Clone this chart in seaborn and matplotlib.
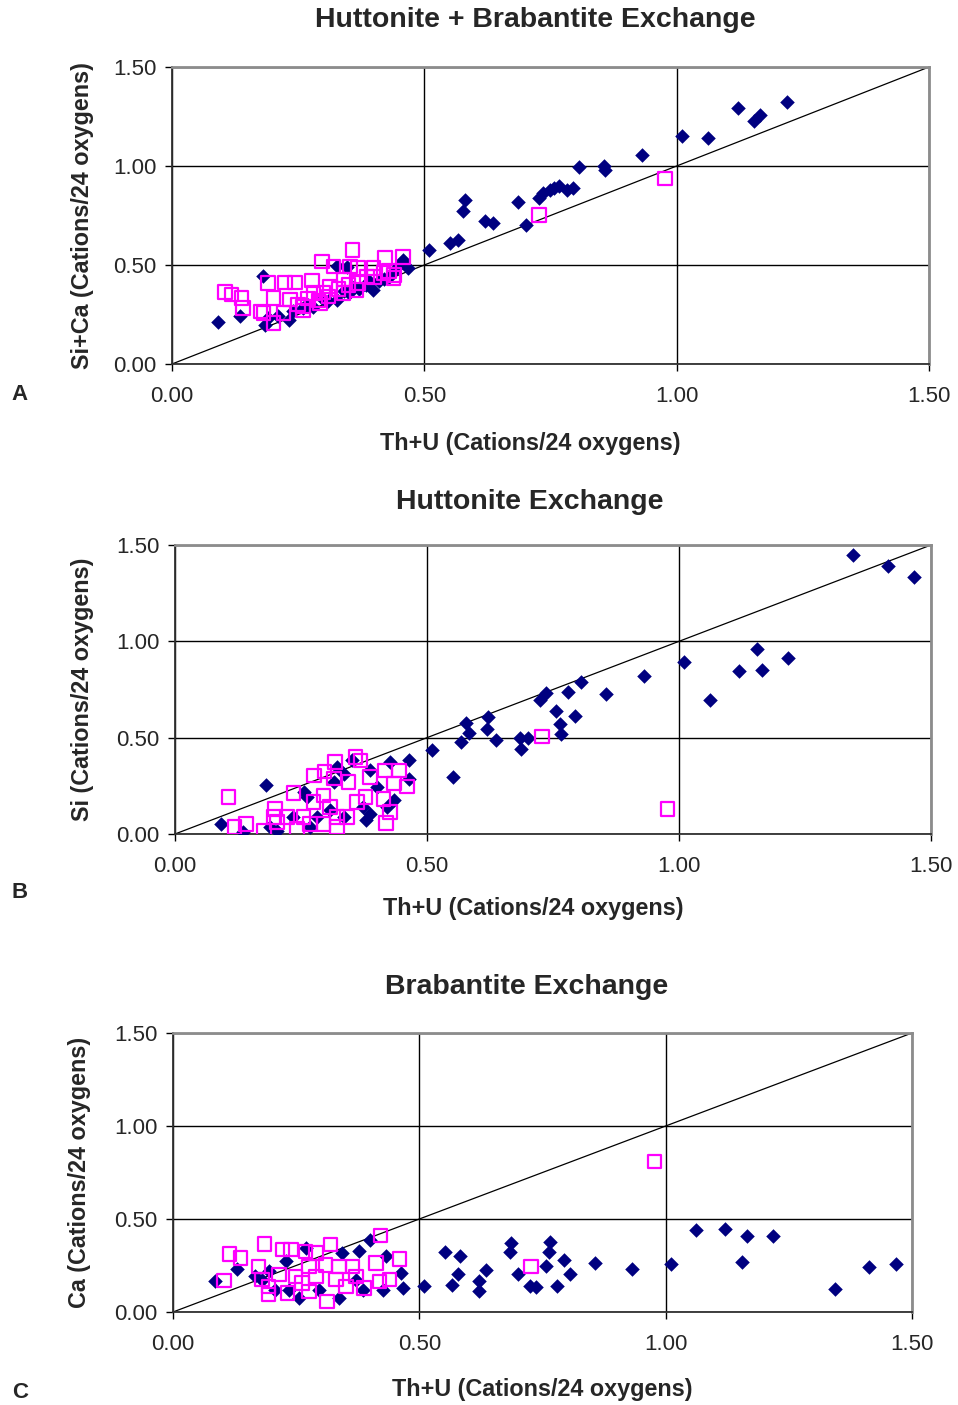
import matplotlib
matplotlib.use("Agg")
import matplotlib.pyplot as plt
import seaborn as sns

sns.set_style("white")
plt.rcParams["font.family"] = ["Liberation Sans", "DejaVu Sans"]

NAVY = "#000080"
MAGENTA = "#FF00FF"

# Panel A: Si+Ca vs Th+U
a_navy_x = [0.092, 0.134, 0.180, 0.184, 0.19, 0.21, 0.231, 0.24, 0.26, 0.27, 0.28, 0.30, 0.31, 0.326, 0.326,
            0.346, 0.34, 0.35, 0.36, 0.37, 0.385, 0.39, 0.399, 0.41, 0.42, 0.43, 0.44, 0.45, 0.458, 0.468,
            0.510, 0.551, 0.567, 0.577, 0.581, 0.620, 0.637, 0.686, 0.701, 0.727, 0.736, 0.749, 0.756,
            0.766, 0.782, 0.795, 0.806, 0.856, 0.858, 0.932, 1.010, 1.062, 1.121, 1.154, 1.165, 1.218]
a_navy_y = [0.212, 0.240, 0.446, 0.198, 0.23, 0.24, 0.224, 0.27, 0.283, 0.30, 0.29, 0.33, 0.32, 0.325, 0.493,
            0.490, 0.37, 0.36, 0.39, 0.38, 0.40, 0.42, 0.375, 0.42, 0.43, 0.44, 0.47, 0.50, 0.527, 0.485,
            0.574, 0.611, 0.628, 0.771, 0.830, 0.720, 0.712, 0.818, 0.704, 0.838, 0.864, 0.880, 0.889,
            0.900, 0.880, 0.889, 0.995, 1.002, 0.981, 1.054, 1.153, 1.139, 1.294, 1.229, 1.258, 1.323]
a_mag_x = [0.105, 0.118, 0.138, 0.141, 0.175, 0.181, 0.190, 0.201, 0.201, 0.221, 0.224, 0.234, 0.244, 0.25,
           0.26, 0.260, 0.27, 0.277, 0.280, 0.29, 0.293, 0.297, 0.30, 0.31, 0.313, 0.320, 0.33, 0.340, 0.340,
           0.35, 0.353, 0.358, 0.366, 0.369, 0.37, 0.386, 0.399, 0.40, 0.419, 0.422, 0.43, 0.439, 0.44,
           0.458, 0.727, 0.977]
a_mag_y = [0.364, 0.350, 0.333, 0.283, 0.266, 0.258, 0.409, 0.207, 0.333, 0.258, 0.412, 0.325, 0.412, 0.30,
           0.27, 0.291, 0.33, 0.421, 0.359, 0.32, 0.308, 0.518, 0.36, 0.34, 0.392, 0.493, 0.38, 0.426, 0.359,
           0.40, 0.493, 0.577, 0.375, 0.485, 0.41, 0.442, 0.485, 0.44, 0.460, 0.535, 0.47, 0.434, 0.45,
           0.540, 0.752, 0.936]

# Panel B: Si vs Th+U
b_navy_x = [0.091, 0.135, 0.181, 0.189, 0.202, 0.235, 0.255, 0.262, 0.268, 0.282, 0.308, 0.315, 0.321,
            0.335, 0.335, 0.351, 0.374, 0.378, 0.387, 0.387, 0.401, 0.421, 0.427, 0.434, 0.464, 0.464,
            0.510, 0.551, 0.567, 0.578, 0.583, 0.619, 0.621, 0.636, 0.684, 0.686, 0.700, 0.725, 0.737,
            0.755, 0.763, 0.766, 0.780, 0.794, 0.805, 0.856, 0.930, 1.010, 1.062, 1.120, 1.154, 1.165,
            1.217, 1.346, 1.414, 1.467]
b_navy_y = [0.053, 0.010, 0.252, 0.036, 0.013, 0.088, 0.218, 0.192, 0.036, 0.088, 0.123, 0.269, 0.347,
            0.313, 0.088, 0.382, 0.140, 0.071, 0.330, 0.105, 0.244, 0.140, 0.373, 0.174, 0.382, 0.287,
            0.434, 0.294, 0.477, 0.574, 0.524, 0.547, 0.605, 0.490, 0.500, 0.443, 0.500, 0.694, 0.732,
            0.637, 0.569, 0.521, 0.737, 0.612, 0.789, 0.725, 0.822, 0.895, 0.694, 0.846, 0.958, 0.849,
            0.912, 1.446, 1.389, 1.334]
b_mag_x = [0.106, 0.118, 0.141, 0.177, 0.196, 0.198, 0.202, 0.222, 0.235, 0.242, 0.255, 0.268, 0.275,
           0.276, 0.295, 0.295, 0.297, 0.308, 0.315, 0.317, 0.321, 0.321, 0.341, 0.344, 0.358, 0.361,
           0.368, 0.378, 0.387, 0.414, 0.417, 0.419, 0.427, 0.434, 0.444, 0.460, 0.728, 0.977]
b_mag_y = [0.192, 0.036, 0.053, 0.019, 0.088, 0.131, 0.062, 0.088, 0.212, 0.027, 0.088, 0.053, 0.166,
           0.304, 0.200, 0.053, 0.325, 0.140, 0.287, 0.373, 0.088, 0.036, 0.088, 0.269, 0.399, 0.166,
           0.382, 0.192, 0.295, 0.183, 0.330, 0.057, 0.114, 0.261, 0.330, 0.247, 0.507, 0.129]

# Panel C: Ca vs Th+U
c_navy_x = [0.086, 0.130, 0.167, 0.181, 0.194, 0.208, 0.229, 0.235, 0.256, 0.269, 0.297, 0.337, 0.344,
            0.371, 0.378, 0.385, 0.399, 0.426, 0.433, 0.463, 0.467,
            0.510, 0.552, 0.567, 0.579, 0.582, 0.621, 0.621, 0.635, 0.684, 0.686, 0.700, 0.724, 0.736,
            0.757, 0.763, 0.766, 0.780, 0.794, 0.806, 0.856, 0.931, 1.010, 1.062, 1.120, 1.154, 1.165,
            1.217, 1.344, 1.413, 1.467]
c_navy_y = [0.165, 0.231, 0.191, 0.174, 0.218, 0.120, 0.272, 0.120, 0.075, 0.344, 0.120, 0.075, 0.317,
            0.174, 0.326, 0.120, 0.389, 0.120, 0.299, 0.210, 0.129,
            0.138, 0.320, 0.147, 0.204, 0.299, 0.168, 0.115, 0.226, 0.320, 0.371, 0.202, 0.138, 0.132,
            0.249, 0.322, 0.376, 0.141, 0.277, 0.202, 0.263, 0.231, 0.256, 0.442, 0.446, 0.267, 0.407,
            0.408, 0.124, 0.242, 0.256]
c_mag_x = [0.103, 0.115, 0.137, 0.174, 0.181, 0.186, 0.194, 0.194, 0.215, 0.222, 0.232, 0.239, 0.249,
           0.262, 0.269, 0.276, 0.276, 0.290, 0.290, 0.310, 0.313, 0.320, 0.331, 0.337, 0.351, 0.364,
           0.371, 0.388, 0.412, 0.419, 0.421, 0.439, 0.460, 0.727, 0.977]
c_mag_y = [0.170, 0.313, 0.290, 0.245, 0.174, 0.366, 0.093, 0.138, 0.201, 0.335, 0.102, 0.335, 0.191,
           0.156, 0.326, 0.245, 0.111, 0.317, 0.191, 0.254, 0.057, 0.362, 0.174, 0.245, 0.138, 0.245,
           0.191, 0.129, 0.263, 0.165, 0.412, 0.174, 0.285, 0.244, 0.808]

# 1:1 reference line
ref_line = [0.0, 1.5]
ticks = [0.0, 0.5, 1.0, 1.5]
tick_labels = ["0.00", "0.50", "1.00", "1.50"]

W, H = 958, 1405
fig = plt.figure(figsize=(W / 100, H / 100), dpi=100)


def px_rect(left, top, right, bottom):
    return [left / W, 1 - bottom / H, (right - left) / W, (bottom - top) / H]


def draw_panel(rect, nx, ny, mx, my, ylabel, title, title_x, title_y,
               xlab_xy, ylab_x, letter, letter_y):
    ax = fig.add_axes(px_rect(*rect))
    ax.set_xlim(0, 1.5)
    ax.set_ylim(0, 1.5)
    ax.set_xticks(ticks)
    ax.set_yticks(ticks)
    ax.set_xticklabels(tick_labels, fontsize=16)
    ax.set_yticklabels(tick_labels, fontsize=16)
    ax.grid(True, color="black", linewidth=1.0)
    ax.set_axisbelow(True)
    ax.tick_params(axis="both", direction="out", length=5, width=1, color="black", bottom=True, left=True)
    ax.tick_params(axis="x", pad=11)
    ax.tick_params(axis="y", pad=6)
    for side in ["left", "bottom"]:
        ax.spines[side].set_color("#303030")
        ax.spines[side].set_linewidth(1.3)
    for side in ["top", "right"]:
        ax.spines[side].set_color("#8c8c8c")
        ax.spines[side].set_linewidth(2.0)

    sns.lineplot(x=ref_line, y=ref_line, ax=ax, color="black", linewidth=0.9, zorder=2)
    sns.scatterplot(x=nx, y=ny, ax=ax, marker="D", color=NAVY, s=55, linewidth=0, zorder=3, legend=False)
    sns.scatterplot(x=mx, y=my, ax=ax, marker="s", facecolor="none", edgecolor=MAGENTA, s=95,
                    linewidth=1.6, zorder=4, legend=False)

    ax.set_xlabel("Th+U (Cations/24 oxygens)", fontsize=16.8, fontweight="bold")
    ax.set_ylabel(ylabel, fontsize=16.8, fontweight="bold")
    ax.xaxis.set_label_coords(*xlab_xy)
    ax.yaxis.set_label_coords(ylab_x, 0.5)
    fig.text(title_x / W, 1 - title_y / H, title, fontsize=20.5, fontweight="bold", ha="center", va="center")
    fig.text(20 / W, 1 - letter_y / H, letter, fontsize=16, fontweight="bold", ha="center", va="center")
    return ax


ax_a = draw_panel((172, 67, 929, 364), a_navy_x, a_navy_y, a_mag_x, a_mag_y,
                  "Si+Ca (Cations/24 oxygens)", "Huttonite + Brabantite Exchange", 535, 20,
                  (0.473, -0.23), -0.103, "A", 395)
ax_b = draw_panel((175, 545, 931, 834), b_navy_x, b_navy_y, b_mag_x, b_mag_y,
                  "Si (Cations/24 oxygens)", "Huttonite Exchange", 530, 502,
                  (0.474, -0.218), -0.107, "B", 893)
ax_c = draw_panel((173, 1033, 912, 1312), c_navy_x, c_navy_y, c_mag_x, c_mag_y,
                  "Ca (Cations/24 oxygens)", "Brabantite Exchange", 527, 987,
                  (0.50, -0.237), -0.111, "C", 1392)

fig.savefig("out.png", dpi=100)
